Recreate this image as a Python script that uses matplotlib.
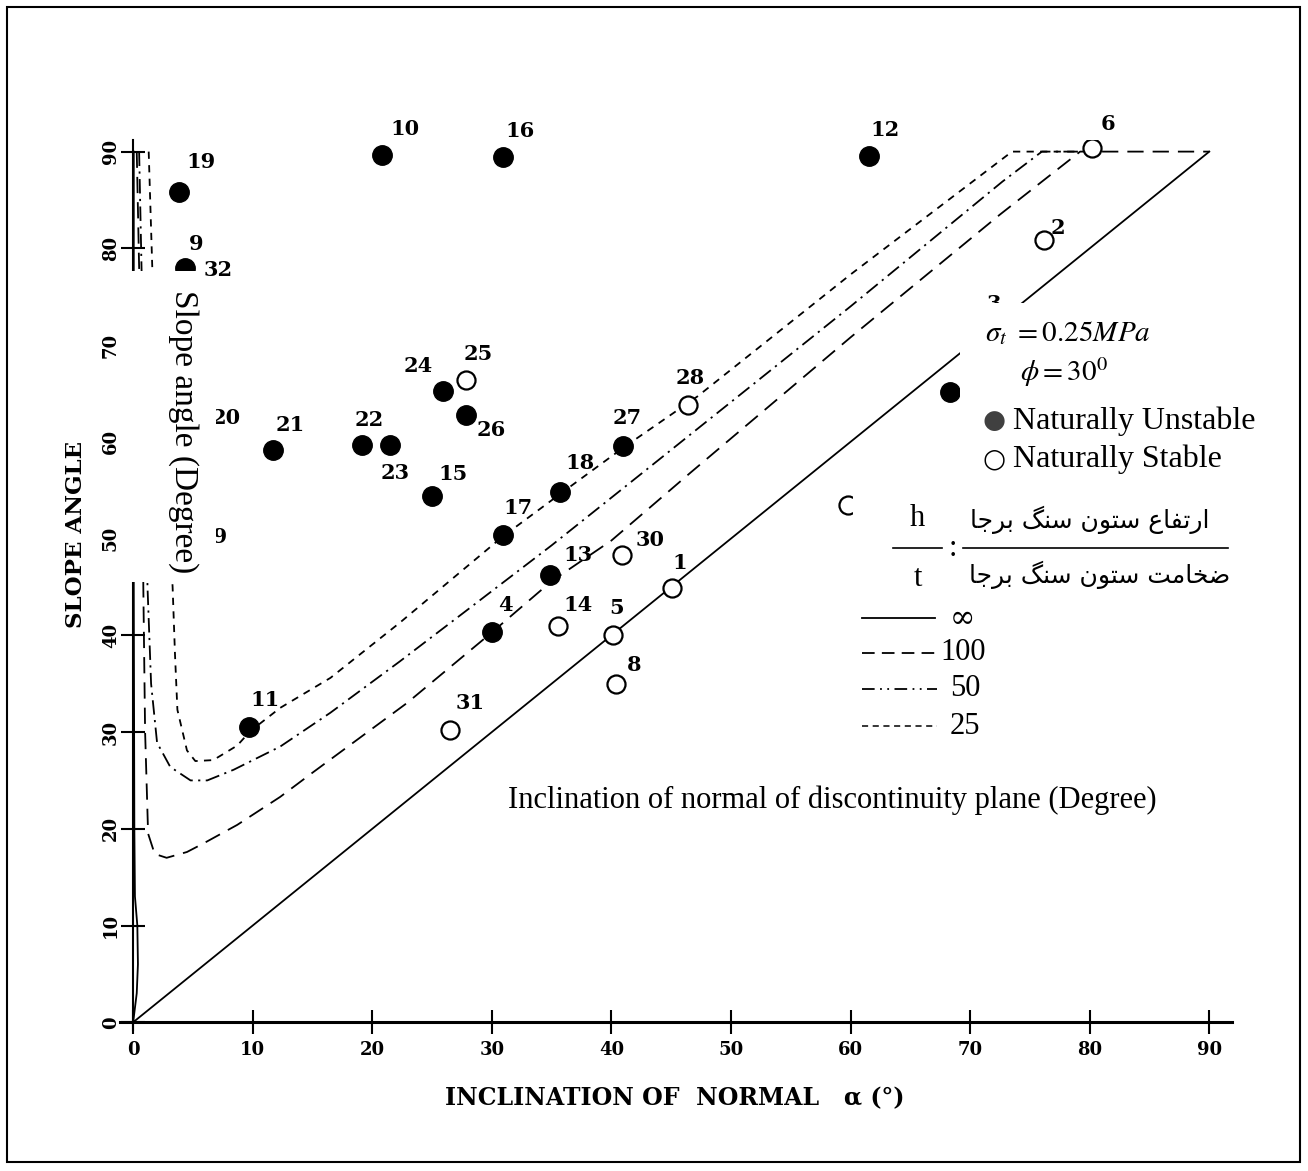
import matplotlib
matplotlib.use('Agg')
import matplotlib.pyplot as plt
from matplotlib.patches import Rectangle
from matplotlib.lines import Line2D

plt.rcParams['mathtext.fontset'] = 'stix'

W, H = 1308, 1171

# limit curves for h/t = inf, 100, 50, 25 (alpha, slope angle)
inf_x = [0.05, 0.05, 0.1, 0.15, 0.35, 0.4, 0.3, 0.0, 90.0]
inf_y = [90, 45, 20, 13, 10, 6, 3, 0, 90]

c100_x = [0.3, 0.5, 0.8, 0.85, 1.0, 1.25, 1.8, 2.8, 4.5, 5.9, 8.7, 12.3, 15.0,
          22.9, 30.0, 35.0, 40.0, 46.6, 60.0, 72.5, 79.2, 90.0]
c100_y = [90, 78, 60, 45, 30, 19.5, 17.4, 17.0, 17.6, 18.5, 20.4, 23.3, 25.8,
          33.0, 40.3, 45.6, 49.8, 56.8, 70.8, 83.5, 90, 90]

c50_x = [0.5, 0.7, 1.0, 1.2, 1.5, 2.0, 3.1, 4.8, 6.2, 8.4, 12.3, 16.5, 22.3,
         27.6, 35.0, 42.6, 60.0, 72.7, 76.0, 79.2]
c50_y = [90, 78, 60, 45, 35, 28.9, 26.4, 25.0, 25.0, 26.1, 28.5, 32.0, 37.3,
         42.3, 49.3, 56.8, 74.0, 86.9, 90, 90]

c25_x = [1.3, 1.6, 2.6, 3.3, 3.5, 3.7, 4.5, 5.2, 6.7, 8.7, 9.8, 12.3, 16.5,
         22.3, 30.9, 35.7, 41.0, 47.2, 60.0, 73.5, 79.2]
c25_y = [90, 78, 60, 45, 38, 32.3, 28.1, 27.0, 27.1, 28.6, 30.1, 32.5, 35.6,
         41.3, 50.2, 54.6, 59.4, 64.7, 77.3, 90, 90]

# case histories
unstable_id = ['10', '16', '12', '19', '9', '32', '20', '29', '21', '22', '23', '24',
               '26', '15', '17', '18', '27', '13', '4', '11', '7']
unstable_x = [20.8, 30.9, 61.5, 3.8, 4.3, 4.6, 4.5, 4.2, 11.7, 19.1, 21.5, 25.9,
              27.8, 25.0, 30.9, 35.7, 41.0, 34.9, 30.0, 9.7, 68.3]
unstable_y = [89.7, 89.4, 89.5, 85.8, 78.0, 74.0, 59.0, 50.0, 59.2, 59.7, 59.7, 65.3,
              62.8, 54.4, 50.4, 54.8, 59.6, 46.2, 40.3, 30.5, 65.2]

stable_id = ['6', '2', '25', '28', '30', '1', '14', '5', '8', '31', '3', '']
stable_x = [80.2, 76.2, 27.8, 46.4, 40.9, 45.1, 35.5, 40.1, 40.4, 26.5, 72.0, 59.8]
stable_y = [90.4, 80.9, 66.4, 63.8, 48.3, 44.9, 41.0, 40.0, 35.0, 30.2, 71.0, 53.5]

# label placement around each point, in pixels (dx right, dy up)
label_offset = {
    '10': (23, 26), '16': (17, 26), '12': (17, 26), '19': (22, 30), '9': (12, 24),
    '32': (30, 36), '20': (39, 33), '29': (30, 2), '21': (17, 25), '22': (8, 25),
    '23': (5, -28), '24': (-25, 25), '26': (26, -15), '15': (21, 22), '17': (15, 27),
    '18': (20, 29), '27': (4, 28), '13': (28, 20), '4': (14, 27), '11': (16, 27),
    '7': (22, 0), '6': (16, 24), '2': (14, 12), '25': (13, 26), '28': (2, 27),
    '30': (28, 15), '1': (7, 25), '14': (20, 21), '5': (4, 27), '8': (18, 19),
    '31': (20, 27), '3': (0, 31),
}

fig = plt.figure(figsize=(W / 100, H / 100), dpi=100)


def fx(x):
    return x / W


def fy(y):
    return 1 - y / H


ax = fig.add_axes([fx(120), fy(1030), (1232 - 120) / W, (1030 - 140) / H])
ax.set_xlim(-1.1, 91.9)
ax.set_ylim(-0.8, 91.2)

lw = 1.3
ax.plot(inf_x, inf_y, color='k', lw=lw)
ax.plot(c100_x, c100_y, color='k', lw=lw, dashes=(9, 5))
ax.plot(c50_x, c50_y, color='k', lw=lw, dashes=(8, 3, 1.2, 3))
ax.plot(c25_x, c25_y, color='k', lw=lw, dashes=(4, 3.5))

ax.plot(unstable_x, unstable_y, 'o', color='k', ms=14, zorder=4)
ax.plot(stable_x, stable_y, 'o', mfc='white', mec='k', mew=1.6, ms=13, zorder=4)

for ids, xs, ys in [(unstable_id, unstable_x, unstable_y), (stable_id, stable_x, stable_y)]:
    for name, x, y in zip(ids, xs, ys):
        if not name:
            continue
        dx, dy = label_offset[name]
        ax.annotate(name, (x, y), xytext=(dx, dy), textcoords='offset pixels',
                    ha='center', va='center', fontsize=15, fontweight='bold',
                    family='DejaVu Serif')

# axes drawn through the origin, ticks crossing the lines
for side in ['top', 'right']:
    ax.spines[side].set_visible(False)
ax.spines['left'].set_position(('data', 0))
ax.spines['bottom'].set_position(('data', 0))
ax.spines['left'].set_linewidth(1.5)
ax.spines['bottom'].set_linewidth(2.2)
ax.set_xticks(range(0, 91, 10))
ax.set_yticks(range(0, 91, 10))
ax.tick_params(direction='inout', length=17, width=1.5)
ax.tick_params(axis='x', pad=5)
ax.tick_params(axis='y', pad=1)
for lab in ax.get_xticklabels() + ax.get_yticklabels():
    lab.set_family('DejaVu Serif')
    lab.set_fontweight('bold')
    lab.set_fontsize(13)
for lab in ax.get_yticklabels():
    lab.set_rotation(90)
    lab.set_va('center')

fig.text(fx(675), fy(1098), 'INCLINATION OF  NORMAL   \u03b1 (\u00b0)', ha='center', va='center',
         family='DejaVu Serif', fontweight='bold', fontsize=17)
fig.text(fx(76), fy(535), 'SLOPE ANGLE', rotation=90, ha='center', va='center',
         family='DejaVu Serif', fontweight='bold', fontsize=16.5)


def white_box(x0, y0, x1, y1):
    fig.add_artist(Rectangle((fx(x0), fy(y1)), (x1 - x0) / W, (y1 - y0) / H,
                             transform=fig.transFigure, fc='white', ec='none', zorder=5))


def fig_line(x0, x1, y, **kw):
    fig.add_artist(Line2D([fx(x0), fx(x1)], [fy(y), fy(y)], transform=fig.transFigure,
                          color='k', zorder=6, **kw))


def fig_text(x, y, s, size=22, **kw):
    kw.setdefault('family', 'Liberation Serif')
    fig.text(fx(x), fy(y), s, fontsize=size, zorder=6, **kw)


# overlaid captions
white_box(118, 271, 200, 300)
white_box(118, 300, 216, 582)
fig_text(183, 432, 'Slope angle (Degree)', size=24, rotation=-90, ha='center', va='center')

white_box(960, 303, 1265, 478)
fig_text(985, 333, r'$\sigma_{t}\ = 0.25MPa$', size=21, ha='left', va='center')
fig_text(1020, 372, r'$\phi = 30^{0}$', size=21, ha='left', va='center')
fig_text(982, 421, '\u25cf', size=19, ha='left', va='center', color='#404040',
         family='DejaVu Sans')
fig_text(1013, 421, 'Naturally Unstable', size=23, ha='left', va='center')
fig_text(982, 459, '\u25cb', size=19, ha='left', va='center', family='DejaVu Sans')
fig_text(1013, 459, 'Naturally Stable', size=23, ha='left', va='center')

white_box(853, 478, 1245, 755)
fig_text(917, 518, 'h', size=22, ha='center', va='center')
fig_line(893, 942, 548, lw=1.2)
fig_text(918, 578, 't', size=22, ha='center', va='center')
fig_text(953, 548, ':', size=22, ha='center', va='center')
fig_line(963, 1228, 548, lw=1.2)
fig_text(1090, 520, '\ufe8e\ufe9f\ufeae\ufe91 \ufb93\ufee8\ufeb3 \ufee5\ufeee\ufe98\ufeb3 \ufec9\ufe8e\ufed4\ufe97\ufead\ufe8d',
         size=18, ha='center', va='center', family='DejaVu Sans')
fig_text(1100, 575, '\ufe8e\ufe9f\ufeae\ufe91 \ufb93\ufee8\ufeb3 \ufee5\ufeee\ufe98\ufeb3 \ufe96\ufee3\ufe8e\ufea8\ufebf',
         size=18, ha='center', va='center', family='DejaVu Sans')

fig_line(862, 935, 618, lw=1.3)
fig_text(962, 618, '\u221e', size=22, ha='center', va='center', family='DejaVu Serif')
fig_line(862, 937, 653, lw=1.3, dashes=(7, 4))
fig_text(940, 653, '100', size=22, ha='left', va='center')
fig_line(862, 937, 689, lw=1.3, dashes=(7, 3, 1, 3, 1, 3))
fig_text(950, 689, '50', size=22, ha='left', va='center')
fig_line(862, 937, 726, lw=1.1, dashes=(4, 3))
fig_text(950, 726, '25', size=22, ha='left', va='center')

fig_text(832, 800, 'Inclination of normal of discontinuity plane (Degree)', size=22,
         ha='center', va='center')

# frame around the whole figure
fig.add_artist(Rectangle((fx(7), fy(1162)), (1300 - 7) / W, (1162 - 7) / H,
                         transform=fig.transFigure, fill=False, ec='k', lw=1.5, zorder=7))

fig.savefig('out.png', dpi=100)
